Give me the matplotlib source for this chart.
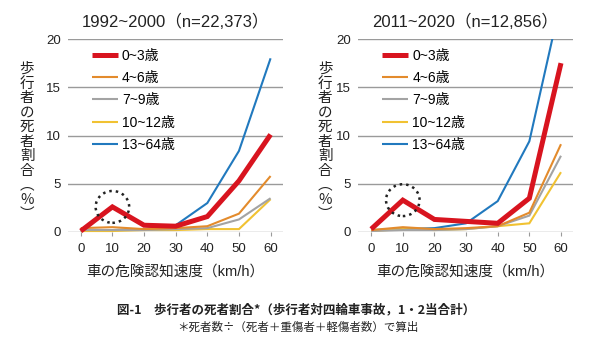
import matplotlib
matplotlib.use("Agg")
import matplotlib.pyplot as plt
from matplotlib.patches import Ellipse

fam = ['Liberation Sans', 'Noto Sans CJK JP', 'DejaVu Sans']
cjk = ['Noto Sans CJK JP', 'DejaVu Sans']
plt.rcParams['font.family'] = fam

# データ
speeds = [0, 10, 20, 30, 40, 50, 60]
groups = ['0~3歳', '4~6歳', '7~9歳', '10~12歳', '13~64歳']
colors = ['#d8141f', '#e38b2c', '#a3a3a3', '#f1c232', '#2179be']
widths = [3.6, 1.5, 1.5, 1.5, 1.5]

titles = ['1992~2000（n=22,373）', '2011~2020（n=12,856）']

rate_1992 = [
    [0.1, 2.6, 0.7, 0.6, 1.6, 5.3, 10.1],
    [0.4, 0.5, 0.3, 0.4, 0.6, 1.9, 5.8],
    [0.2, 0.2, 0.2, 0.3, 0.4, 1.3, 3.5],
    [0.1, 0.1, 0.2, 0.2, 0.3, 0.3, 3.4],
    [0.1, 0.2, 0.3, 0.7, 3.0, 8.4, 18.0],
]
rate_2011 = [
    [0.3, 3.3, 1.3, 1.1, 0.9, 3.5, 17.5],
    [0.2, 0.5, 0.3, 0.4, 0.6, 2.0, 9.1],
    [0.1, 0.2, 0.2, 0.3, 0.6, 1.7, 7.9],
    [0.1, 0.3, 0.2, 0.3, 0.6, 0.9, 6.2],
    [0.2, 0.3, 0.4, 0.9, 3.2, 9.4, 24.0],
]

yticks = [0, 5, 10, 15, 20]
ylabel = '\n'.join(list('歩行者の死者割合')) + '\n︵\n%\n︶'
xlabel = '車の危険認知速度（km/h）'

fig = plt.figure(figsize=(6, 3.44), dpi=100)
lefts = [0.113, 0.597]
ylab_x = [0.045, 0.542]

for i, data in enumerate([rate_1992, rate_2011]):
    ax = fig.add_axes([lefts[i], 0.3256, 0.358, 0.561])
    for yt in yticks:
        ax.axhline(yt, color='#9a9a9a', lw=1.0, zorder=0)
    for k, g in enumerate(groups):
        clip = (i == 1 and k == 4)
        ax.plot(speeds, data[k], color=colors[k], lw=widths[k], label=g,
                clip_on=clip, zorder=5 - k if k else 6,
                solid_capstyle='butt', solid_joinstyle='miter')
    # 点線の丸
    ax.add_patch(Ellipse((speeds[1], data[0][1]), 10.6, 3.3, fill=False,
                         ls=(0, (1, 1.6)), lw=1.8, ec='#222222', zorder=7, clip_on=False))
    ax.set_xlim(-4.1, 63.8)
    ax.set_ylim(0, 20)
    ax.set_xticks(speeds)
    ax.set_yticks(yticks)
    ax.tick_params(labelsize=9.5, colors='#222222')
    ax.tick_params(axis='x', length=3, width=0.8, color='#9a9a9a', pad=5)
    ax.tick_params(axis='y', length=0, pad=5)
    for s in ax.spines.values():
        s.set_visible(False)
    ax.set_title(titles[i], fontsize=12, pad=9, color='#222222')
    ax.set_xlabel(xlabel, fontsize=10.5, labelpad=7, color='#222222')
    ax.legend(loc='upper left', bbox_to_anchor=(0.112, 0.95), frameon=False,
              prop={'family': fam, 'size': 10}, handlelength=1.87, handletextpad=0.3,
              labelspacing=0.6, borderpad=0, borderaxespad=0)
    fig.text(ylab_x[i], 0.588, ylabel, fontsize=10.5, linespacing=1.05,
             ha='center', va='center', color='#222222', family=cjk)

fig.text(0.493, 0.099, '図-1　歩行者の死者割合*（歩行者対四輪車事故，1・2当合計）',
         ha='center', va='center', fontsize=9, fontweight='bold', color='#222222', family=cjk)
fig.text(0.497, 0.047, '＊死者数÷（死者＋重傷者＋軽傷者数）で算出',
         ha='center', va='center', fontsize=8.3, color='#222222', family=cjk)

fig.savefig('out.png', dpi=100)
